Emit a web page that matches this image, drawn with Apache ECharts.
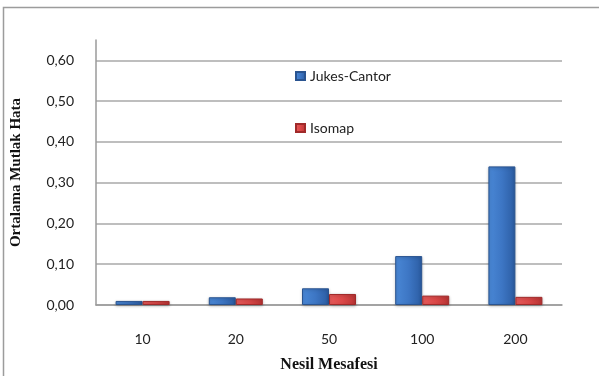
<!DOCTYPE html>
<html>
<head>
<meta charset="utf-8">
<script src="https://cdn.jsdelivr.net/npm/echarts@6/dist/echarts.min.js"></script>
<style>
  html, body { margin: 0; padding: 0; background: #fff; }
  #chart { width: 599px; height: 376px; }
</style>
</head>
<body>
<div id="chart"></div>
<script>
// Generation distance categories and mean absolute error per method
const categories = ['10', '20', '50', '100', '200'];
const jukesCantor = [0.010, 0.019, 0.041, 0.120, 0.340];
const isomap = [0.010, 0.016, 0.027, 0.023, 0.020];
const seriesNames = ['Jukes-Cantor', 'Isomap'];

const chart = echarts.init(document.getElementById('chart'));

function bevel(light, mid, dark) {
  return new echarts.graphic.LinearGradient(0, 0, 1, 0, [
    { offset: 0, color: light },
    { offset: 0.5, color: mid },
    { offset: 1, color: dark }
  ]);
}

const labelFont = 'Lato, "Open Sans", sans-serif';
const titleFont = '"Liberation Serif", "DejaVu Serif", serif';

chart.setOption({
  animation: false,
  backgroundColor: '#fff',
  graphic: [{
    type: 'rect',
    shape: { x: 3.5, y: 7.5, width: 700, height: 500 },
    style: { fill: 'none', stroke: '#9c9c9c', lineWidth: 1.5 },
    silent: true,
    z: -1
  }],
  grid: { left: 96, right: 37, top: 40, bottom: 71, outerBoundsMode: 'none', containLabel: false },
  legend: {
    orient: 'vertical',
    left: 290,
    top: 64,
    itemWidth: 9,
    itemHeight: 8,
    itemGap: 38,
    icon: 'rect',
    textStyle: { fontFamily: labelFont, fontSize: 14, color: '#222' },
    data: seriesNames
  },
  xAxis: {
    type: 'category',
    data: categories,
    name: 'Nesil Mesafesi',
    nameLocation: 'middle',
    nameGap: 52,
    nameTextStyle: { fontFamily: titleFont, fontWeight: 'bold', fontSize: 16, color: '#111' },
    axisLine: { lineStyle: { color: '#9a9a9a', width: 1.5 } },
    axisTick: { show: false },
    axisLabel: { fontFamily: labelFont, fontSize: 14, color: '#222', margin: 27 }
  },
  yAxis: {
    type: 'value',
    min: 0,
    max: 0.65,
    interval: 0.1,
    name: 'Ortalama Mutlak Hata',
    nameLocation: 'middle',
    nameGap: 72,
    nameTextStyle: { fontFamily: titleFont, fontWeight: 'bold', fontSize: 15, color: '#111' },
    axisLine: { show: true, lineStyle: { color: '#9a9a9a', width: 1.5 } },
    axisTick: { show: false },
    axisLabel: {
      fontFamily: labelFont, fontSize: 14, color: '#222', margin: 22,
      showMaxLabel: false,
      formatter: v => v.toFixed(2).replace('.', ',')
    },
    splitLine: { showMaxLine: false, lineStyle: { color: '#a8a8a8', width: 1.5 } }
  },
  series: [
    {
      name: seriesNames[0],
      type: 'bar',
      data: jukesCantor,
      barWidth: 27,
      barGap: '0%',
      itemStyle: {
        color: bevel('#4a88d6', '#3d76c4', '#2b5ca2'),
        borderColor: '#2a5490',
        borderWidth: 1,
        shadowColor: 'rgba(0,0,0,0.25)',
        shadowBlur: 3,
        shadowOffsetY: 1
      }
    },
    {
      name: seriesNames[1],
      type: 'bar',
      data: isomap,
      barWidth: 27,
      itemStyle: {
        color: bevel('#e65a5a', '#db4848', '#b93434'),
        borderColor: '#a02a2a',
        borderWidth: 1,
        shadowColor: 'rgba(0,0,0,0.25)',
        shadowBlur: 3,
        shadowOffsetY: 1
      }
    }
  ]
});
</script>
</body>
</html>
